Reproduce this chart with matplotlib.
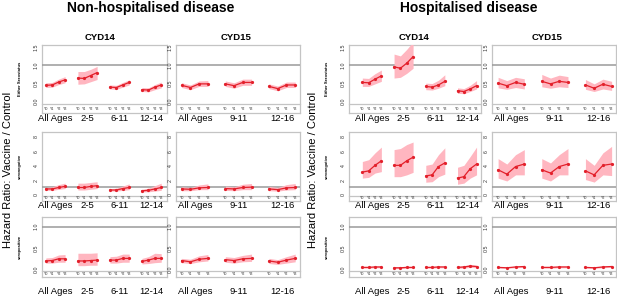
import matplotlib
matplotlib.use("Agg")
import matplotlib.pyplot as plt
from matplotlib.transforms import blended_transform_factory

plt.rcParams['font.family'] = ['Liberation Sans', 'DejaVu Sans']

W, H = 617, 297

years = ["Y0", "Y1", "Y2", "Y3"]
groups_14 = ["All Ages", "2-5", "6-11", "12-14"]
groups_15 = ["All Ages", "9-11", "12-16"]
rows = ["Either Serostatus", "seronegative", "seropositive"]

# hazard ratio estimates, one list of 4 (Y0..Y3) per age group
# non-hospitalised, CYD14
nh14_est = [
    [[0.44, 0.45, 0.53, 0.59], [0.64, 0.63, 0.71, 0.79], [0.39, 0.38, 0.45, 0.52], [0.32, 0.31, 0.39, 0.45]],
    [[0.80, 0.80, 1.00, 1.15], [1.00, 1.00, 1.15, 1.25], [0.65, 0.65, 0.85, 1.00], [0.55, 0.60, 0.80, 1.00]],
    [[0.20, 0.21, 0.25, 0.25], [0.20, 0.20, 0.21, 0.22], [0.22, 0.22, 0.26, 0.26], [0.19, 0.22, 0.26, 0.26]],
]
nh14_lo = [
    [[0.38, 0.39, 0.46, 0.51], [0.47, 0.48, 0.54, 0.60], [0.34, 0.33, 0.39, 0.45], [0.27, 0.26, 0.32, 0.37]],
    [[0.60, 0.60, 0.75, 0.85], [0.65, 0.65, 0.75, 0.85], [0.50, 0.50, 0.60, 0.70], [0.40, 0.40, 0.50, 0.60]],
    [[0.15, 0.15, 0.17, 0.17], [0.09, 0.09, 0.10, 0.10], [0.15, 0.15, 0.17, 0.17], [0.13, 0.14, 0.16, 0.17]],
]
nh14_hi = [
    [[0.51, 0.52, 0.61, 0.68], [0.82, 0.82, 0.88, 0.96], [0.45, 0.44, 0.52, 0.59], [0.38, 0.37, 0.46, 0.53]],
    [[1.00, 1.10, 1.40, 1.60], [1.60, 1.60, 1.70, 1.80], [0.85, 0.90, 1.20, 1.50], [0.75, 0.90, 1.25, 1.60]],
    [[0.27, 0.28, 0.34, 0.35], [0.38, 0.38, 0.38, 0.39], [0.30, 0.31, 0.36, 0.36], [0.26, 0.30, 0.38, 0.37]],
]
# non-hospitalised, CYD15
nh15_est = [
    [[0.44, 0.38, 0.48, 0.48], [0.48, 0.43, 0.52, 0.52], [0.41, 0.35, 0.45, 0.45]],
    [[0.80, 0.75, 0.95, 1.00], [0.85, 0.80, 1.00, 1.05], [0.80, 0.70, 0.95, 1.00]],
    [[0.21, 0.18, 0.24, 0.26], [0.23, 0.21, 0.25, 0.26], [0.20, 0.17, 0.22, 0.26]],
]
nh15_lo = [
    [[0.38, 0.32, 0.41, 0.41], [0.41, 0.36, 0.44, 0.44], [0.35, 0.29, 0.38, 0.38]],
    [[0.55, 0.55, 0.70, 0.70], [0.60, 0.55, 0.70, 0.70], [0.55, 0.50, 0.65, 0.70]],
    [[0.16, 0.14, 0.18, 0.20], [0.17, 0.15, 0.18, 0.19], [0.14, 0.12, 0.15, 0.18]],
]
nh15_hi = [
    [[0.51, 0.45, 0.56, 0.57], [0.56, 0.51, 0.61, 0.61], [0.48, 0.42, 0.53, 0.53]],
    [[1.10, 1.00, 1.35, 1.50], [1.20, 1.10, 1.45, 1.55], [1.15, 1.00, 1.40, 1.55]],
    [[0.26, 0.24, 0.32, 0.35], [0.30, 0.28, 0.33, 0.36], [0.26, 0.23, 0.30, 0.36]],
]
# hospitalised, CYD14
h14_est = [
    [[0.52, 0.51, 0.61, 0.70], [0.95, 0.91, 1.05, 1.23], [0.41, 0.39, 0.45, 0.55], [0.29, 0.27, 0.34, 0.43]],
    [[3.13, 3.30, 4.07, 4.70], [4.07, 4.07, 4.70, 5.20], [2.60, 2.75, 3.90, 4.40], [2.30, 2.50, 3.60, 4.25]],
    [[0.05, 0.05, 0.06, 0.06], [0.04, 0.04, 0.05, 0.05], [0.05, 0.05, 0.06, 0.06], [0.05, 0.06, 0.08, 0.07]],
]
h14_lo = [
    [[0.41, 0.41, 0.48, 0.55], [0.64, 0.66, 0.77, 0.91], [0.32, 0.31, 0.36, 0.43], [0.22, 0.21, 0.27, 0.34]],
    [[2.30, 2.40, 3.00, 3.20], [2.50, 2.50, 2.75, 3.10], [1.73, 1.80, 2.50, 2.85], [1.45, 1.60, 2.30, 2.75]],
    [[0.03, 0.03, 0.04, 0.04], [0.02, 0.02, 0.03, 0.03], [0.03, 0.03, 0.04, 0.04], [0.03, 0.03, 0.05, 0.04]],
]
h14_hi = [
    [[0.64, 0.63, 0.76, 0.86], [1.30, 1.25, 1.43, 1.64], [0.50, 0.49, 0.58, 0.73], [0.37, 0.35, 0.44, 0.57]],
    [[4.60, 4.85, 5.80, 6.60], [6.25, 6.40, 6.95, 7.30], [4.07, 4.25, 5.55, 6.50], [3.80, 4.07, 5.30, 6.60]],
    [[0.07, 0.07, 0.08, 0.08], [0.06, 0.06, 0.07, 0.07], [0.07, 0.07, 0.08, 0.08], [0.07, 0.09, 0.12, 0.10]],
]
# hospitalised, CYD15
h15_est = [
    [[0.50, 0.43, 0.52, 0.47], [0.55, 0.48, 0.55, 0.52], [0.45, 0.36, 0.47, 0.41]],
    [[3.45, 2.85, 3.90, 4.25], [3.45, 3.00, 3.90, 4.25], [3.30, 2.75, 4.07, 4.25]],
    [[0.05, 0.04, 0.06, 0.07], [0.05, 0.05, 0.06, 0.06], [0.05, 0.04, 0.06, 0.07]],
]
h15_lo = [
    [[0.37, 0.33, 0.38, 0.34], [0.40, 0.36, 0.40, 0.38], [0.33, 0.27, 0.34, 0.30]],
    [[2.30, 1.90, 2.75, 2.75], [2.30, 1.90, 2.75, 2.75], [2.10, 1.75, 2.75, 2.65]],
    [[0.03, 0.03, 0.04, 0.05], [0.03, 0.03, 0.04, 0.04], [0.03, 0.03, 0.04, 0.05]],
]
h15_hi = [
    [[0.66, 0.57, 0.66, 0.62], [0.74, 0.64, 0.72, 0.68], [0.60, 0.48, 0.61, 0.55]],
    [[5.00, 4.25, 5.55, 6.25], [5.00, 4.40, 5.55, 6.40], [5.00, 4.07, 5.80, 6.70]],
    [[0.07, 0.06, 0.08, 0.09], [0.07, 0.07, 0.08, 0.08], [0.07, 0.06, 0.08, 0.09]],
]

# y axis settings per row
row_ylim = [(-0.074, 1.55), (-0.11, 8.69), (-0.023, 1.227)]
row_ticks = [[0.0, 0.5, 1.0, 1.5], [0, 2, 4, 6, 8], [0.0, 0.5, 1.0]]
row_ticklab = [["0.0", "0.5", "1.0", "1.5"], ["0", "2", "4", "6", "8"], ["0.0", "0.5", "1.0"]]

# pixel layout per row: frame top, axis line, frame bottom, group label centre
row_px = [(45, 104, 113, 118.5), (132, 195.5, 200.5, 206), (217, 270.5, 276.5, 291)]
col_px = {"L14": (42, 167), "L15": (176, 300), "R14": (349, 481), "R15": (492, 616)}

RED = "#e3202b"
PINK = "#ffb6c0"
REFLINE = "#9a9a9a"
FRAME = "#c4c4c4"

fig = plt.figure(figsize=(W / 100, H / 100), dpi=100)


def px_axes(x0, x1, y0, y1, **kw):
    return fig.add_axes([x0 / W, 1 - y1 / H, (x1 - x0) / W, (y1 - y0) / H], **kw)


def draw_panel(x0, x1, r, groups, est, lo, hi, xlim):
    top, axis_y, bottom, lab_y = row_px[r]
    # outer grey box (contains the Y0..Y3 strip)
    box = px_axes(x0, x1, top, bottom)
    box.set_xticks([])
    box.set_yticks([])
    box.patch.set_alpha(0)
    for s in box.spines.values():
        s.set_color(FRAME)
        s.set_linewidth(0.9)

    ax = px_axes(x0, x1, top, axis_y)
    ax.patch.set_alpha(0)
    for k in ("top", "left", "right"):
        ax.spines[k].set_visible(False)
    ax.spines["bottom"].set_color(FRAME)
    ax.spines["bottom"].set_linewidth(0.9)
    ax.axhline(1.0, color=REFLINE, lw=1.1, zorder=1)
    for g, name in enumerate(groups):
        xs = [g * 5 + i for i in range(4)]
        ax.fill_between(xs, lo[g], hi[g], color=PINK, lw=0, zorder=2)
        ax.plot(xs, est[g], color=RED, lw=0.9, marker="o", ms=1.3, zorder=3)
    ax.set_xlim(*xlim)
    ax.set_ylim(*row_ylim[r])
    ax.set_xticks([])
    ax.set_yticks(row_ticks[r])
    ax.set_yticklabels(row_ticklab[r], fontsize=3.8, rotation=90, va="center", color="#333333")
    ax.tick_params(axis="y", length=0, pad=2.5)

    tr = blended_transform_factory(ax.transData, fig.transFigure)
    yr = 1 - ((axis_y + bottom) / 2 + 0.3) / H
    yg = 1 - lab_y / H
    for g, name in enumerate(groups):
        for i, yl in enumerate(years):
            ax.text(g * 5 + i, yr, yl, transform=tr, ha="center", va="center",
                    fontsize=2.6, color="#333333", clip_on=False)
        ax.text(g * 5 + 1.5, yg, name, transform=tr, ha="center", va="center",
                fontsize=6.8, clip_on=False)


panels = [
    ("L14", groups_14, nh14_est, nh14_lo, nh14_hi, (-0.6, 18.9)),
    ("L15", groups_15, nh15_est, nh15_lo, nh15_hi, (-0.65, 13.55)),
    ("R14", groups_14, h14_est, h14_lo, h14_hi, (-2.1, 18.7)),
    ("R15", groups_15, h15_est, h15_lo, h15_hi, (-0.7, 13.5)),
]

for key, groups, est, lo, hi, xlim in panels:
    x0, x1 = col_px[key]
    for r in range(3):
        draw_panel(x0, x1, r, groups, est[r], lo[r], hi[r], xlim)

# titles
fig.text(151 / W, 1 - 8 / H, "Non-hospitalised disease", ha="center", va="center",
         fontsize=10, fontweight="bold")
fig.text(469 / W, 1 - 8 / H, "Hospitalised disease", ha="center", va="center",
         fontsize=10, fontweight="bold")
for x, t in [(100, "CYD14"), (236, "CYD15"), (414, "CYD14"), (547, "CYD15")]:
    fig.text(x / W, 1 - 37 / H, t, ha="center", va="center", fontsize=6.8, fontweight="bold")

for x in (8, 313):
    fig.text(x / W, 1 - 170 / H, "Hazard Ratio: Vaccine / Control", rotation=90,
             ha="center", va="center", fontsize=8)
for x in (20, 327):
    for r, lab in enumerate(rows):
        yc = (row_px[r][0] + row_px[r][2]) / 2
        fig.text(x / W, 1 - yc / H, lab, rotation=90, ha="center", va="center",
                 fontsize=3, fontweight="bold")

fig.savefig("out.png", dpi=100)
